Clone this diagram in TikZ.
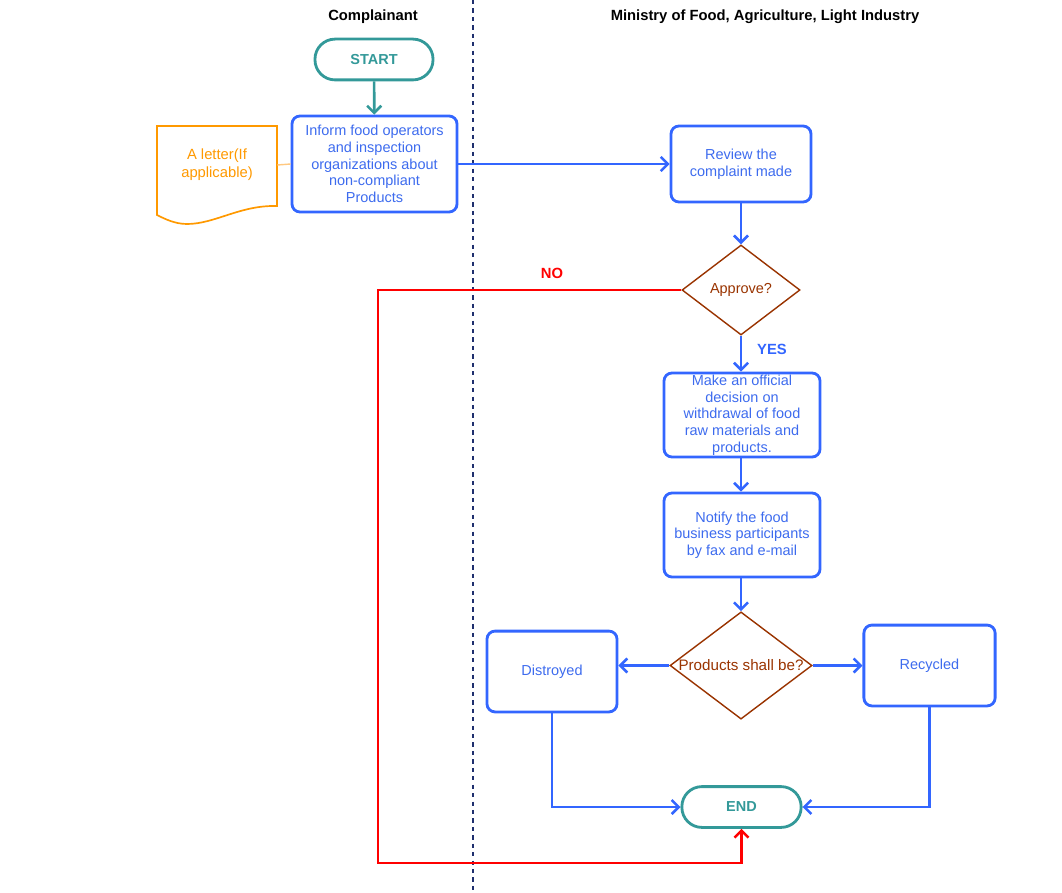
\documentclass[tikz,border=0pt]{standalone}
\usepackage{fontspec}
\setmainfont{Liberation Sans}
\usetikzlibrary{shapes.geometric,arrows.meta}

\definecolor{flowblue}{HTML}{3366FF}
\definecolor{textblue}{HTML}{3D6BEE}
\definecolor{teal}{HTML}{339999}
\definecolor{brownish}{HTML}{993300}
\definecolor{letterorange}{HTML}{FF9900}
\definecolor{lightorange}{HTML}{FFC880}
\definecolor{lanenavy}{HTML}{1F2F6E}

\begin{document}
\begin{tikzpicture}[x=0.025cm, y=-0.025cm,
            font=\fontsize{10.3}{11.9}\selectfont,
            terminal/.style={draw=teal, line width=2pt, rounded corners=0.5cm, minimum width=2.95cm, minimum height=1.02cm, text=teal, font=\fontsize{10.3}{12}\selectfont\bfseries},
            process/.style={draw=flowblue, line width=2pt, rounded corners=0.2cm, text=textblue, align=center, inner sep=0pt},
            decision/.style={draw=brownish, line width=1pt, diamond, inner sep=0pt, text=brownish},
            flow/.style={draw=flowblue, line width=1.9pt, -{Straight Barb[length=5pt, width=10pt, line width=1.8pt]}},
            noflow/.style={draw=red, line width=1.9pt, -{Straight Barb[length=5pt, width=10pt, line width=1.8pt]}},
            lane/.style={font=\fontsize{10.5}{12}\selectfont\bfseries}]

            \useasboundingbox (0,0) rectangle (1062,892);

            % lanes
            \draw[draw=lanenavy, line width=1pt, dash pattern=on 3pt off 3pt] (473,0) -- (473,892);
            \node[lane] (complainant) at (373,17) {Complainant};
            \node[lane] (ministry) at (765,17) {Ministry of Food, Agriculture, Light Industry};

            % nodes
            \node[terminal] (start) at (374,59.5) {START};
            \node[process, minimum width=4.125cm, minimum height=2.4cm] (inform) at (374.5,164) {Inform food operators\\and inspection\\organizations about\\non-compliant\\Products};
            \node[minimum width=3cm, minimum height=2cm, inner sep=0pt, text=letterorange, align=center, font=\fontsize{10.5}{12.8}\selectfont] (letter) at (217,165) {A letter(If\\applicable)};
            \node[process, minimum width=3.5cm, minimum height=1.9cm] (review) at (741,164) {Review the\\complaint made};
            \node[decision, minimum width=2.95cm, minimum height=2.25cm] (approve) at (741,290) {\makebox[0pt]{Approve?}};
            \node[process, minimum width=3.9cm, minimum height=2.1cm] (official) at (742,415) {Make an official\\decision on\\withdrawal of food\\raw materials and\\products.};
            \node[process, minimum width=3.9cm, minimum height=2.1cm] (notify) at (742,535) {Notify the food\\business participants\\by fax and e-mail};
            \node[decision, minimum width=3.55cm, minimum height=2.68cm, font=\fontsize{10.8}{12}\selectfont] (products) at (741,665.5) {\makebox[0pt]{Products shall be?}};
            \node[process, minimum width=3.25cm, minimum height=2.02cm] (distroyed) at (552,671.5) {Distroyed};
            \node[process, minimum width=3.28cm, minimum height=2.02cm] (recycled) at (929.5,665.5) {Recycled};
            \node[terminal, minimum width=2.98cm] (theend) at (741.5,807) {END};
            \coordinate (nobottom) at (378,863);

            % letter outline
            \draw[draw=letterorange, line width=1.2pt] (157,126) -- (277,126) -- (277,206)
                .. controls (240,205) and (215,224) .. (187,224)
                .. controls (175,224) and (165,219) .. (157,215) -- cycle;

            % connectors
            \draw[draw=lightorange, line width=1pt] (letter.east) -- (inform.west);
            \draw[flow, draw=teal] (start) -- (inform);
            \draw[flow] (inform.east) -- (review.west);
            \draw[flow] (review) -- (approve);
            \draw[flow] (approve.south) -- (approve.south |- official.north);
            \draw[flow] (official.south -| approve.south) -- (notify.north -| approve.south);
            \draw[flow] (notify.south -| products.north) -- (products.north);
            \draw[flow] (products.west) -- (products.west -| distroyed.east);
            \draw[flow] (products.east) -- (products.east -| recycled.west);
            \draw[flow] (distroyed.south) |- (theend.west);
            \draw[flow] (recycled.south) |- (theend.east);
            \draw[noflow] (approve.west) -| (nobottom) -| (theend.south);

            % labels
            \node[text=red, font=\fontsize{10.5}{12}\selectfont\bfseries] (nolabel) at (552,273) {NO};
            \node[text=flowblue, font=\fontsize{10.5}{12}\selectfont\bfseries] (yeslabel) at (772,349) {YES};

        \end{tikzpicture}
\end{document}
